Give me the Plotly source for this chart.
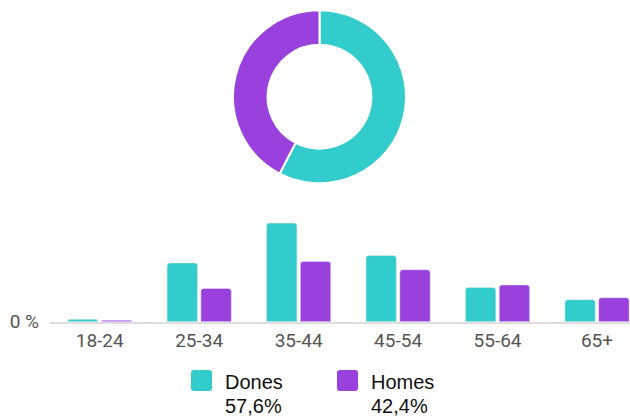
import plotly.graph_objects as go

# ---- data ----
age_groups = ["18-24", "25-34", "35-44", "45-54", "55-64", "65+"]
dones = [0.5, 12.0, 20.1, 13.5, 7.0, 4.5]
homes = [0.3, 6.8, 12.3, 10.6, 7.5, 4.9]
series_names = ["Dones", "Homes"]
shares = [57.6, 42.4]
share_labels = ["57,6%", "42,4%"]
y_tick_vals = [0]
y_tick_text = ["0 %"]

TEAL = "#33cccc"
PURPLE = "#9a40dd"
colors = [TEAL, PURPLE]

W = 630
REF_H = 419
FIG_H = 432


def px_x(x):
    return x / W


def px_y(y):
    return (REF_H - y) / REF_H


fig = go.Figure()

fig.add_trace(go.Pie(
    values=shares, labels=series_names, hole=0.6, sort=False,
    direction="clockwise", rotation=0, textinfo="none",
    marker=dict(colors=colors, line=dict(color="white", width=2)),
    domain=dict(x=[px_x(233), px_x(406)], y=[px_y(183), px_y(10)]),
    showlegend=False, hoverinfo="label+percent",
))

fig.add_trace(go.Bar(x=age_groups, y=dones, name=series_names[0],
                     marker_color=TEAL, showlegend=False))
fig.add_trace(go.Bar(x=age_groups, y=homes, name=series_names[1],
                     marker_color=PURPLE, showlegend=False))

px_per_unit = 489.6 / 100.0
plot_top, plot_bottom = 200, 321
x_left = 50
cat_w = 99.45

fig.update_layout(
    width=W, height=FIG_H, autosize=False,
    margin=dict(l=0, r=0, t=0, b=0),
    paper_bgcolor="white", plot_bgcolor="white",
    barmode="group", bargap=0.32, bargroupgap=0.1, barcornerradius=3,
    xaxis=dict(
        domain=[px_x(x_left), 1.0],
        range=[-0.5, -0.5 + (W - x_left) / cat_w],
        showgrid=False, zeroline=False,
        showline=True, linecolor="#dddddd", linewidth=2,
        ticks="", tickfont=dict(family="Roboto", size=19, color="#555555"),
        ticklabelstandoff=0,
    ),
    yaxis=dict(
        domain=[px_y(plot_bottom), px_y(plot_top)],
        range=[0, (plot_bottom - plot_top) / px_per_unit],
        showgrid=False, zeroline=False, showline=False,
        tickvals=y_tick_vals, ticktext=y_tick_text, ticks="",
        tickfont=dict(family="Roboto", size=19, color="#555555"),
        ticklabelstandoff=10,
    ),
)

legend_x = [191, 337]
shapes = []
annotations = []
for i, name in enumerate(series_names):
    x0 = legend_x[i]
    x1 = x0 + 21
    y0, y1 = 369, 390
    r = 3
    path = (f"M {px_x(x0 + r)},{px_y(y0)} L {px_x(x1 - r)},{px_y(y0)} "
            f"Q {px_x(x1)},{px_y(y0)} {px_x(x1)},{px_y(y0 + r)} "
            f"L {px_x(x1)},{px_y(y1 - r)} Q {px_x(x1)},{px_y(y1)} {px_x(x1 - r)},{px_y(y1)} "
            f"L {px_x(x0 + r)},{px_y(y1)} Q {px_x(x0)},{px_y(y1)} {px_x(x0)},{px_y(y1 - r)} "
            f"L {px_x(x0)},{px_y(y0 + r)} Q {px_x(x0)},{px_y(y0)} {px_x(x0 + r)},{px_y(y0)} Z")
    shapes.append(dict(type="path", xref="paper", yref="paper", path=path,
                       fillcolor=colors[i], line=dict(width=0)))
    annotations.append(dict(xref="paper", yref="paper", x=px_x(x0 + 32), y=px_y(381),
                            text=name, showarrow=False, xanchor="left", yanchor="middle",
                            font=dict(family="Liberation Sans", size=20, color="#111111")))
    annotations.append(dict(xref="paper", yref="paper", x=px_x(x0 + 32), y=px_y(405),
                            text=share_labels[i], showarrow=False, xanchor="left", yanchor="middle",
                            font=dict(family="Liberation Sans", size=20, color="#111111")))

fig.update_layout(shapes=shapes, annotations=annotations)

fig.write_html("out.html", config={"displayModeBar": False, "responsive": False},
               post_script="document.body.style.margin='0';document.body.style.overflow='hidden';")
